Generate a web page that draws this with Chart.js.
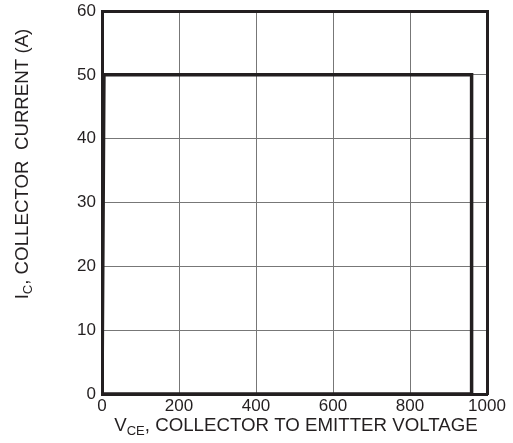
<!DOCTYPE html>
<html>
<head>
  <title>Safe Operating Area</title>
  <script src="https://cdn.jsdelivr.net/npm/chart.js"></script>
  <style>
    body { margin: 0; background: #fff; }
  </style>
</head>
<body>
  <div style="width:513px;height:443px;">
    <canvas id="soa" width="513" height="443"></canvas>
  </div>

  <script>
    // boundary of the operating area
    const vceValues = [0, 5, 960, 960, 0];
    const icValues = [0, 50, 50, 0, 0];
    const xTicks = [0, 200, 400, 600, 800, 1000];
    const yTicks = [0, 10, 20, 30, 40, 50, 60];

    const ink = '#231f20';
    const fontFamily = '"Liberation Sans", Arial, sans-serif';

    // draws the axis titles with their subscripts
    const titlePlugin = {
      id: 'subTitles',
      afterDraw(chart) {
        const ctx = chart.ctx;

        function drawParts(parts, cx, baseY) {
          let total = 0;
          parts.forEach(p => {
            ctx.font = (p.sub ? '13px ' : '18.7px ') + fontFamily;
            p.w = ctx.measureText(p.t).width;
            total += p.w;
          });
          let x = cx - total / 2;
          parts.forEach(p => {
            ctx.font = (p.sub ? '13px ' : '18.7px ') + fontFamily;
            ctx.fillText(p.t, x, baseY + (p.sub ? 4 : 0));
            x += p.w;
          });
        }

        ctx.save();
        ctx.fillStyle = ink;
        ctx.textBaseline = 'alphabetic';
        ctx.textAlign = 'left';
        drawParts([
          { t: 'V', sub: false },
          { t: 'CE', sub: true },
          { t: ', COLLECTOR TO EMITTER VOLTAGE', sub: false }
        ], 296, 431);

        ctx.translate(28, 164);
        ctx.rotate(-Math.PI / 2);
        drawParts([
          { t: 'I', sub: false },
          { t: 'C', sub: true },
          { t: ', COLLECTOR  CURRENT (A)', sub: false }
        ], 0, 0);
        ctx.restore();
      }
    };

    const points = vceValues.map((v, i) => ({ x: v, y: icValues[i] }));

    new Chart(document.getElementById('soa').getContext('2d'), {
      type: 'line',
      data: {
        datasets: [{
          data: points,
          borderColor: ink,
          borderWidth: 3.5,
          pointRadius: 0,
          fill: false,
          tension: 0
        }]
      },
      options: {
        responsive: false,
        animation: false,
        layout: { padding: { left: 0, right: 26, top: 11, bottom: 0 } },
        plugins: { legend: { display: false }, tooltip: { enabled: false } },
        scales: {
          x: {
            type: 'linear',
            min: 0, max: 1000,
            afterBuildTicks: s => { s.ticks = xTicks.map(v => ({ value: v })); },
            afterFit: s => { s.height = 49; s.paddingLeft = 0; s.paddingRight = 0; },
            grid: { color: '#777', lineWidth: 1, drawTicks: false },
            border: { color: ink, width: 3 },
            ticks: {
              color: ink, padding: 2,
              font: { size: 17, family: fontFamily },
              callback: v => String(v)
            }
          },
          y: {
            type: 'linear',
            min: 0, max: 60,
            afterBuildTicks: s => { s.ticks = yTicks.map(v => ({ value: v })); },
            afterFit: s => { s.width = 102; s.paddingTop = 0; s.paddingBottom = 0; },
            grid: { color: '#777', lineWidth: 1, drawTicks: false },
            border: { color: ink, width: 3 },
            ticks: { color: ink, padding: 6, font: { size: 17, family: fontFamily } }
          },
          xTop: {
            type: 'linear', position: 'top', min: 0, max: 1000,
            afterFit: s => { s.height = 0; s.paddingLeft = 0; s.paddingRight = 0; },
            grid: { drawOnChartArea: false, drawTicks: false },
            border: { color: ink, width: 3 },
            ticks: { display: false }
          },
          yRight: {
            type: 'linear', position: 'right', min: 0, max: 60,
            afterFit: s => { s.width = 0; s.paddingTop = 0; s.paddingBottom = 0; },
            grid: { drawOnChartArea: false, drawTicks: false },
            border: { color: ink, width: 3 },
            ticks: { display: false }
          }
        }
      },
      plugins: [titlePlugin]
    });
  </script>
</body>
</html>
